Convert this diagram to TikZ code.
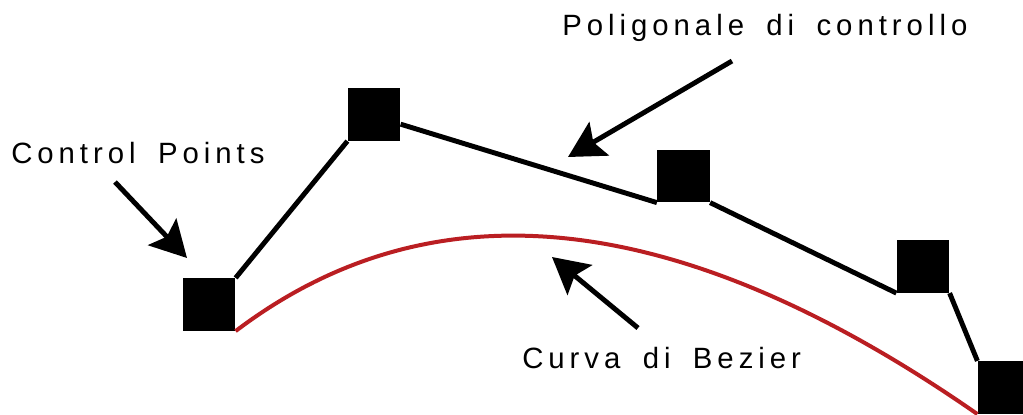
\documentclass[tikz,border=0pt]{standalone}
\usepackage{fontspec}
\usepackage{tikz}
\usetikzlibrary{arrows.meta}
\newfontfamily\lblfont[LetterSpace=17,WordSpace=1.7]{Liberation Sans}
\definecolor{curvered}{RGB}{186,30,34}

\begin{document}
\begin{tikzpicture}[x=0.75pt,y=0.75pt,yscale=-1,xscale=1,
    cpt/.style={draw=none,fill=black,minimum size=39.5pt,inner sep=0pt},
    poly/.style={line width=3.7pt},
    bez/.style={color=curvered,line width=3pt},
    lbl/.style={anchor=base west,inner sep=0pt,font=\lblfont\fontsize{22}{26}\selectfont},
    ptr/.style={line width=3.7pt,-{Stealth[length=27pt,width=29pt,inset=5pt]}}]
  \useasboundingbox (0,0) rectangle (1023,414);
  % control points
  \node[cpt] (p0) at (209,304.5) {};
  \node[cpt] (p1) at (374,114.5) {};
  \node[cpt] (p2) at (683.5,176) {};
  \node[cpt] (p3) at (923,266.5) {};
  \node[cpt] (p4) at (1004,387.5) {};
  % polygon
  \draw[poly] (p0.north east) -- (p1.south west);
  \draw[poly] (p1.-20) -- (p2.south west);
  \draw[poly] (p2.south east) -- (p3.south west);
  \draw[poly] (p3.south east) -- (p4.north west);
  % curve
  \draw[bez] (p0.south east) .. controls (415,195) and (654,189) .. (p4.south west);
  % labels
  \node[lbl] (cptext) at (11,163) {Control Points};
  \node[lbl] (polytext) at (562,36) {Poligonale di controllo};
  \node[lbl] (beztext) at (522,368) {Curva di Bezier};
  % pointers
  \coordinate (cptail) at (115,182);
  \coordinate (cptip) at (187,258);
  \coordinate (polytail) at (732,61);
  \coordinate (polytip) at (568,157);
  \coordinate (beztail) at (638,328);
  \coordinate (beztip) at (552,257);
  \draw[ptr] (cptail) -- (cptip);
  \draw[ptr] (polytail) -- (polytip);
  \draw[ptr] (beztail) -- (beztip);
\end{tikzpicture}
\end{document}
